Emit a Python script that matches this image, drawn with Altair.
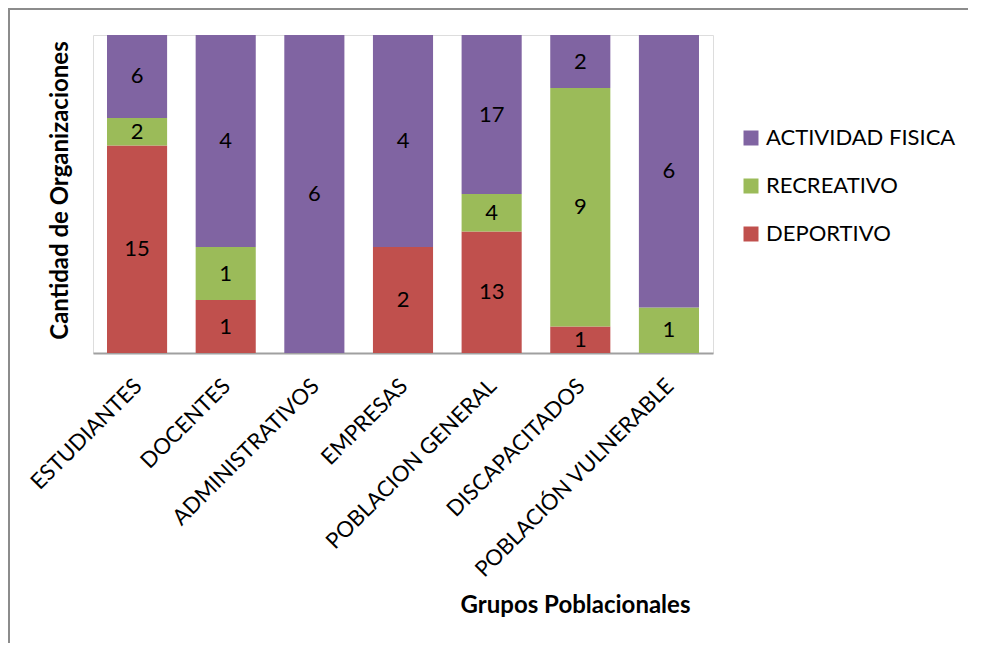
import altair as alt
import pandas as pd

groups = ["ESTUDIANTES", "DOCENTES", "ADMINISTRATIVOS", "EMPRESAS",
          "POBLACION GENERAL", "DISCAPACITADOS", "POBLACIÓN VULNERABLE"]
deportivo = [15, 1, 0, 2, 13, 1, 0]
recreativo = [2, 1, 0, 0, 4, 9, 1]
actividad = [6, 4, 6, 4, 17, 2, 6]

series_names = ["DEPORTIVO", "RECREATIVO", "ACTIVIDAD FISICA"]
series_values = [deportivo, recreativo, actividad]
legend_order = ["ACTIVIDAD FISICA", "RECREATIVO", "DEPORTIVO"]
colors = ["#8064A2", "#9BBB59", "#C0504D"]

rows = []
for si, (name, vals) in enumerate(zip(series_names, series_values)):
    for g, v in zip(groups, vals):
        if v > 0:
            rows.append({"grupo": g, "tipo": name, "valor": v, "orden": si})
df = pd.DataFrame(rows)

W, H = 620, 318
PL, PT, PR, PB = 85, 27, 255, 290
FONT = "Lato"

ytitle = "Cantidad de Organizaciones"
yaxis = alt.Axis(labels=False, ticks=False, domain=False, grid=False,
                 title=ytitle, titleFont=FONT, titleFontSize=24,
                 titleFontWeight="bold", titleColor="#000000",
                 titleX=-33, titleY=H / 2 - 4, titleAngle=-90,
                 titleAlign="center", titleBaseline="middle")
xaxis = alt.Axis(title="Grupos Poblacionales", titleFont=FONT, titleFontSize=24,
                 titleFontWeight="bold", titleColor="#000000",
                 titleX=482, titleY=252, titleAlign="center", titleBaseline="middle",
                 labelAngle=-45, labelAlign="right", labelBaseline="top",
                 labelPadding=22, labelOffset=-6, labelFont=FONT, labelFontSize=22,
                 labelColor="#000000", ticks=False, domainColor="#A0A0A0",
                 domainWidth=2, labelLimit=400)

xscale = alt.Scale(domain=groups, paddingInner=0.322, paddingOuter=0.158)
yscale = alt.Scale(domain=[0, 1])

base = alt.Chart(df).transform_stack(
    stack="valor", groupby=["grupo"], as_=["y0", "y1"],
    offset="normalize", sort=[alt.SortField("orden", order="ascending")]
).transform_calculate(ymid="(datum.y0 + datum.y1) / 2")

bars = base.mark_bar().encode(
    x=alt.X("grupo:N", scale=xscale, axis=xaxis, sort=groups),
    y=alt.Y("y0:Q", scale=yscale, axis=yaxis, title=ytitle),
    y2="y1:Q",
    color=alt.Color("tipo:N", scale=alt.Scale(domain=legend_order, range=colors),
                    legend=alt.Legend(title=None, orient="none", legendX=647,
                                      legendY=92, symbolType="square",
                                      symbolSize=225, symbolStrokeWidth=0,
                                      labelFont=FONT, labelFontSize=22,
                                      labelColor="#000000", rowPadding=26,
                                      labelOffset=4, padding=0, labelLimit=400)),
)

labels = base.mark_text(font=FONT, fontSize=22, color="#000000", baseline="middle").encode(
    x=alt.X("grupo:N", scale=xscale, axis=xaxis, sort=groups),
    y=alt.Y("ymid:Q", scale=yscale, axis=yaxis, title=ytitle),
    text="valor:Q",
)

bd = pd.DataFrame({"a": [0]})
top_line = alt.Chart(bd).mark_rule(color="#8C8C8C", strokeWidth=2).encode(
    x=alt.value(-PL), x2=alt.value(W + PR), y=alt.value(-PT + 1))
left_line = alt.Chart(bd).mark_rule(color="#8C8C8C", strokeWidth=2).encode(
    x=alt.value(-PL + 1), y=alt.value(-PT), y2=alt.value(H + PB))

chart = alt.layer(bars, labels, top_line, left_line).properties(
    width=W, height=H,
    autosize=alt.AutoSizeParams(type="none"),
    padding={"left": PL, "top": PT, "right": PR, "bottom": PB},
).configure_view(stroke=None).configure(background="white")

chart.save("out.html", embed_options={"renderer": "svg", "actions": False})
